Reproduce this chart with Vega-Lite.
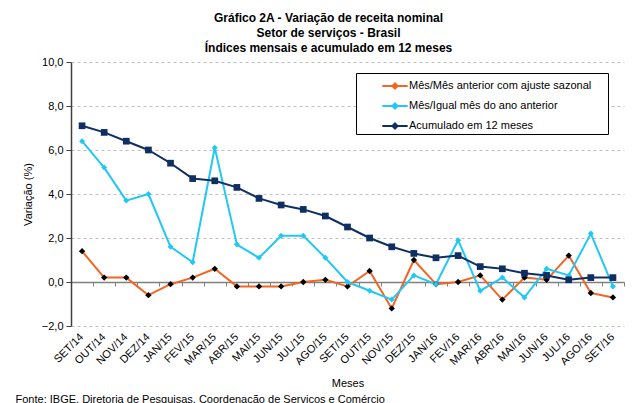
{
  "$schema": "https://vega.github.io/schema/vega-lite/v6.json",
  "width": 553,
  "height": 264,
  "autosize": {"type": "none"},
  "padding": {"left": 71, "top": 62, "right": 13, "bottom": 77},
  "background": "white",
  "config": {
    "font": "Liberation Sans",
    "view": {"stroke": null}
  },
  "title": {
    "text": ["Gráfico 2A - Variação de receita nominal", "Setor de serviços - Brasil", "Índices mensais e acumulado em 12 meses"],
    "font": "Liberation Sans",
    "fontSize": 12,
    "fontWeight": "bold",
    "color": "#000000",
    "anchor": "middle",
    "dx": -19,
    "lineHeight": 15,
    "offset": 1
  },
  "data": {
    "values": [
      {"m": "SET/14", "s": "Mês/Mês anterior com ajuste sazonal", "v": 1.4},
      {"m": "OUT/14", "s": "Mês/Mês anterior com ajuste sazonal", "v": 0.2},
      {"m": "NOV/14", "s": "Mês/Mês anterior com ajuste sazonal", "v": 0.2},
      {"m": "DEZ/14", "s": "Mês/Mês anterior com ajuste sazonal", "v": -0.6},
      {"m": "JAN/15", "s": "Mês/Mês anterior com ajuste sazonal", "v": -0.1},
      {"m": "FEV/15", "s": "Mês/Mês anterior com ajuste sazonal", "v": 0.2},
      {"m": "MAR/15", "s": "Mês/Mês anterior com ajuste sazonal", "v": 0.6},
      {"m": "ABR/15", "s": "Mês/Mês anterior com ajuste sazonal", "v": -0.2},
      {"m": "MAI/15", "s": "Mês/Mês anterior com ajuste sazonal", "v": -0.2},
      {"m": "JUN/15", "s": "Mês/Mês anterior com ajuste sazonal", "v": -0.2},
      {"m": "JUL/15", "s": "Mês/Mês anterior com ajuste sazonal", "v": 0.0},
      {"m": "AGO/15", "s": "Mês/Mês anterior com ajuste sazonal", "v": 0.1},
      {"m": "SET/15", "s": "Mês/Mês anterior com ajuste sazonal", "v": -0.2},
      {"m": "OUT/15", "s": "Mês/Mês anterior com ajuste sazonal", "v": 0.5},
      {"m": "NOV/15", "s": "Mês/Mês anterior com ajuste sazonal", "v": -1.2},
      {"m": "DEZ/15", "s": "Mês/Mês anterior com ajuste sazonal", "v": 1.0},
      {"m": "JAN/16", "s": "Mês/Mês anterior com ajuste sazonal", "v": -0.1},
      {"m": "FEV/16", "s": "Mês/Mês anterior com ajuste sazonal", "v": 0.0},
      {"m": "MAR/16", "s": "Mês/Mês anterior com ajuste sazonal", "v": 0.3},
      {"m": "ABR/16", "s": "Mês/Mês anterior com ajuste sazonal", "v": -0.8},
      {"m": "MAI/16", "s": "Mês/Mês anterior com ajuste sazonal", "v": 0.2},
      {"m": "JUN/16", "s": "Mês/Mês anterior com ajuste sazonal", "v": 0.1},
      {"m": "JUL/16", "s": "Mês/Mês anterior com ajuste sazonal", "v": 1.2},
      {"m": "AGO/16", "s": "Mês/Mês anterior com ajuste sazonal", "v": -0.5},
      {"m": "SET/16", "s": "Mês/Mês anterior com ajuste sazonal", "v": -0.7},
      {"m": "SET/14", "s": "Mês/Igual mês do ano anterior", "v": 6.4},
      {"m": "OUT/14", "s": "Mês/Igual mês do ano anterior", "v": 5.2},
      {"m": "NOV/14", "s": "Mês/Igual mês do ano anterior", "v": 3.7},
      {"m": "DEZ/14", "s": "Mês/Igual mês do ano anterior", "v": 4.0},
      {"m": "JAN/15", "s": "Mês/Igual mês do ano anterior", "v": 1.6},
      {"m": "FEV/15", "s": "Mês/Igual mês do ano anterior", "v": 0.9},
      {"m": "MAR/15", "s": "Mês/Igual mês do ano anterior", "v": 6.1},
      {"m": "ABR/15", "s": "Mês/Igual mês do ano anterior", "v": 1.7},
      {"m": "MAI/15", "s": "Mês/Igual mês do ano anterior", "v": 1.1},
      {"m": "JUN/15", "s": "Mês/Igual mês do ano anterior", "v": 2.1},
      {"m": "JUL/15", "s": "Mês/Igual mês do ano anterior", "v": 2.1},
      {"m": "AGO/15", "s": "Mês/Igual mês do ano anterior", "v": 1.1},
      {"m": "SET/15", "s": "Mês/Igual mês do ano anterior", "v": 0.0},
      {"m": "OUT/15", "s": "Mês/Igual mês do ano anterior", "v": -0.4},
      {"m": "NOV/15", "s": "Mês/Igual mês do ano anterior", "v": -0.8},
      {"m": "DEZ/15", "s": "Mês/Igual mês do ano anterior", "v": 0.3},
      {"m": "JAN/16", "s": "Mês/Igual mês do ano anterior", "v": -0.1},
      {"m": "FEV/16", "s": "Mês/Igual mês do ano anterior", "v": 1.9},
      {"m": "MAR/16", "s": "Mês/Igual mês do ano anterior", "v": -0.4},
      {"m": "ABR/16", "s": "Mês/Igual mês do ano anterior", "v": 0.2},
      {"m": "MAI/16", "s": "Mês/Igual mês do ano anterior", "v": -0.7},
      {"m": "JUN/16", "s": "Mês/Igual mês do ano anterior", "v": 0.6},
      {"m": "JUL/16", "s": "Mês/Igual mês do ano anterior", "v": 0.3},
      {"m": "AGO/16", "s": "Mês/Igual mês do ano anterior", "v": 2.2},
      {"m": "SET/16", "s": "Mês/Igual mês do ano anterior", "v": -0.2},
      {"m": "SET/14", "s": "Acumulado em 12 meses", "v": 7.1},
      {"m": "OUT/14", "s": "Acumulado em 12 meses", "v": 6.8},
      {"m": "NOV/14", "s": "Acumulado em 12 meses", "v": 6.4},
      {"m": "DEZ/14", "s": "Acumulado em 12 meses", "v": 6.0},
      {"m": "JAN/15", "s": "Acumulado em 12 meses", "v": 5.4},
      {"m": "FEV/15", "s": "Acumulado em 12 meses", "v": 4.7},
      {"m": "MAR/15", "s": "Acumulado em 12 meses", "v": 4.6},
      {"m": "ABR/15", "s": "Acumulado em 12 meses", "v": 4.3},
      {"m": "MAI/15", "s": "Acumulado em 12 meses", "v": 3.8},
      {"m": "JUN/15", "s": "Acumulado em 12 meses", "v": 3.5},
      {"m": "JUL/15", "s": "Acumulado em 12 meses", "v": 3.3},
      {"m": "AGO/15", "s": "Acumulado em 12 meses", "v": 3.0},
      {"m": "SET/15", "s": "Acumulado em 12 meses", "v": 2.5},
      {"m": "OUT/15", "s": "Acumulado em 12 meses", "v": 2.0},
      {"m": "NOV/15", "s": "Acumulado em 12 meses", "v": 1.6},
      {"m": "DEZ/15", "s": "Acumulado em 12 meses", "v": 1.3},
      {"m": "JAN/16", "s": "Acumulado em 12 meses", "v": 1.1},
      {"m": "FEV/16", "s": "Acumulado em 12 meses", "v": 1.2},
      {"m": "MAR/16", "s": "Acumulado em 12 meses", "v": 0.7},
      {"m": "ABR/16", "s": "Acumulado em 12 meses", "v": 0.6},
      {"m": "MAI/16", "s": "Acumulado em 12 meses", "v": 0.4},
      {"m": "JUN/16", "s": "Acumulado em 12 meses", "v": 0.3},
      {"m": "JUL/16", "s": "Acumulado em 12 meses", "v": 0.1},
      {"m": "AGO/16", "s": "Acumulado em 12 meses", "v": 0.2},
      {"m": "SET/16", "s": "Acumulado em 12 meses", "v": 0.2}
    ]
  },
  "resolve": {"axis": {"x": "independent"}},
  "layer": [
    {
      "mark": {"type": "line", "strokeJoin": "round"},
      "encoding": {
        "x": {
          "field": "m", "type": "ordinal",
          "sort": ["SET/14","OUT/14","NOV/14","DEZ/14","JAN/15","FEV/15","MAR/15","ABR/15","MAI/15","JUN/15","JUL/15","AGO/15","SET/15","OUT/15","NOV/15","DEZ/15","JAN/16","FEV/16","MAR/16","ABR/16","MAI/16","JUN/16","JUL/16","AGO/16","SET/16"],
          "scale": {"type": "band", "paddingInner": 0, "paddingOuter": 0},
          "bandPosition": 0.5,
          "axis": {
            "orient": "bottom",
            "title": "Meses",
            "titleFont": "Liberation Sans",
            "titleFontSize": 11,
            "titleFontWeight": "normal",
            "titleColor": "#000000",
            "titleY": 57,
            "titleBaseline": "middle",
            "domain": false,
            "ticks": false,
            "grid": false,
            "labelAngle": -45,
            "labelAlign": "right",
            "labelBaseline": "middle",
            "labelPadding": 9,
            "labelFont": "Liberation Sans",
            "labelFontSize": 11,
            "labelColor": "#000000",
            "labelOverlap": false
          }
        },
        "y": {
          "field": "v", "type": "quantitative",
          "scale": {"domain": [-2, 10], "nice": false, "zero": false},
          "axis": {
            "values": [-2, 0, 2, 4, 6, 8, 10],
            "labelExpr": "replace(format(datum.value, '.1f'), '.', ',')",
            "labelFont": "Liberation Sans",
            "labelFontSize": 11,
            "labelColor": "#000000",
            "labelPadding": 3,
            "domainColor": "#404040",
            "domainWidth": 1.5,
            "tickColor": "#404040",
            "tickSize": 5,
            "grid": true,
            "gridColor": "#BFBFBF",
            "gridDash": [3, 3],
            "gridWidth": 1,
            "title": "Variação (%)",
            "titleFont": "Liberation Sans",
            "titleFontSize": 11,
            "titleFontWeight": "normal",
            "titleColor": "#000000",
            "titleX": -43,
            "titleY": 132,
            "titleAngle": -90,
            "titleAlign": "center",
            "titleBaseline": "middle"
          }
        },
        "color": {
          "field": "s", "type": "nominal",
          "scale": {
            "domain": ["Mês/Mês anterior com ajuste sazonal", "Mês/Igual mês do ano anterior", "Acumulado em 12 meses"],
            "range": ["#F26522", "#22C8F5", "#0F2F63"]
          },
          "legend": {
            "title": "I",
            "titleOrient": "right",
            "titleOpacity": 0,
            "titleFontSize": 11,
            "titlePadding": 12,
            "orient": "none",
            "legendX": 285,
            "legendY": 11,
            "padding": 1,
            "fillColor": "#FFFFFF",
            "strokeColor": "#000000",
            "symbolType": "M-1.18,0H1.18M0,-0.24L0.24,0L0,0.24L-0.24,0Z",
            "symbolSize": 462,
            "symbolStrokeWidth": 2.5,
            "symbolOffset": 26,
            "labelOffset": 2,
            "rowPadding": 1,
            "labelFont": "Liberation Sans",
            "labelFontSize": 11,
            "labelColor": "#000000",
            "labelLimit": 400
          }
        },
        "strokeWidth": {
          "field": "s", "type": "nominal",
          "scale": {
            "domain": ["Mês/Mês anterior com ajuste sazonal", "Mês/Igual mês do ano anterior", "Acumulado em 12 meses"],
            "range": [2, 2, 3]
          },
          "legend": null
        }
      }
    },
    {
      "transform": [{"filter": "datum.s === 'Mês/Mês anterior com ajuste sazonal'"}],
      "mark": {"type": "point", "filled": true, "opacity": 1, "shape": "diamond", "size": 40, "color": "#000000"},
      "encoding": {
        "x": {
          "field": "m", "type": "ordinal",
          "sort": ["SET/14","OUT/14","NOV/14","DEZ/14","JAN/15","FEV/15","MAR/15","ABR/15","MAI/15","JUN/15","JUL/15","AGO/15","SET/15","OUT/15","NOV/15","DEZ/15","JAN/16","FEV/16","MAR/16","ABR/16","MAI/16","JUN/16","JUL/16","AGO/16","SET/16"],
          "bandPosition": 0.5,
          "axis": {
            "orient": "bottom",
            "offset": -44,
            "labels": false,
            "domain": true,
            "domainColor": "#808080",
            "domainWidth": 1.5,
            "ticks": true,
            "tickColor": "#808080",
            "tickSize": 4,
            "tickBand": "extent",
            "grid": false,
            "title": "Fonte: IBGE, Diretoria de Pesquisas, Coordenação de Serviços e Comércio",
            "titleFont": "Liberation Sans",
            "titleFontSize": 11,
            "titleFontWeight": "normal",
            "titleColor": "#000000",
            "titleX": -56,
            "titleY": 111,
            "titleAlign": "left",
            "titleBaseline": "top",
            "titleAnchor": "start"
          }
        },
        "y": {"field": "v", "type": "quantitative"}
      }
    },
    {
      "transform": [{"filter": "datum.s === 'Mês/Igual mês do ano anterior'"}],
      "mark": {"type": "point", "filled": true, "opacity": 1, "shape": "diamond", "size": 36, "color": "#22C8F5"},
      "encoding": {
        "x": {
          "field": "m", "type": "ordinal",
          "sort": ["SET/14","OUT/14","NOV/14","DEZ/14","JAN/15","FEV/15","MAR/15","ABR/15","MAI/15","JUN/15","JUL/15","AGO/15","SET/15","OUT/15","NOV/15","DEZ/15","JAN/16","FEV/16","MAR/16","ABR/16","MAI/16","JUN/16","JUL/16","AGO/16","SET/16"],
          "bandPosition": 0.5,
          "axis": null
        },
        "y": {"field": "v", "type": "quantitative"}
      }
    },
    {
      "transform": [{"filter": "datum.s === 'Acumulado em 12 meses'"}],
      "mark": {"type": "point", "filled": true, "opacity": 1, "shape": "square", "size": 45, "color": "#0F2F63"},
      "encoding": {
        "x": {
          "field": "m", "type": "ordinal",
          "sort": ["SET/14","OUT/14","NOV/14","DEZ/14","JAN/15","FEV/15","MAR/15","ABR/15","MAI/15","JUN/15","JUL/15","AGO/15","SET/15","OUT/15","NOV/15","DEZ/15","JAN/16","FEV/16","MAR/16","ABR/16","MAI/16","JUN/16","JUL/16","AGO/16","SET/16"],
          "bandPosition": 0.5,
          "axis": null
        },
        "y": {"field": "v", "type": "quantitative"}
      }
    }
  ]
}
